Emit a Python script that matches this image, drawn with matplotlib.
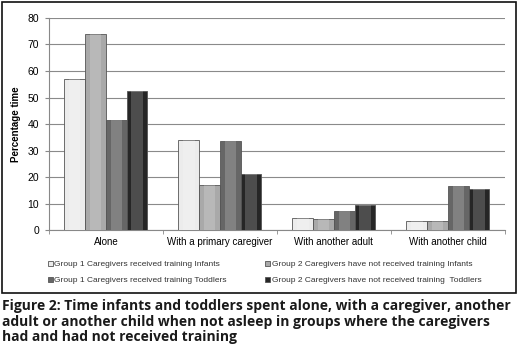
import numpy as np
import matplotlib
matplotlib.use("Agg")
import matplotlib.pyplot as plt
from matplotlib.patches import Rectangle

# data
categories = ["Alone", "With a primary caregiver", "With another adult", "With another child"]
series_names = ["Group 1 Caregivers received training Infants",
                "Group 2 Caregivers have not received training Infants",
                "Group 1 Caregivers received training Toddlers",
                "Group 2 Caregivers have not received training  Toddlers"]
g1_infants = [57, 34, 4.5, 3.5]
g2_infants = [74, 17, 4.3, 3.5]
g1_toddlers = [41.5, 33.7, 7.3, 16.8]
g2_toddlers = [52.3, 21, 9.3, 15.5]
yticks = [0, 10, 20, 30, 40, 50, 60, 70, 80]

caption = ("Figure 2: Time infants and toddlers spent alone, with a caregiver, another\n"
           "adult or another child when not asleep in groups where the caregivers\n"
           "had and had not received training")

colors = ["#ececec", "#a9a9a9", "#666666", "#262626"]
plt.rcParams['font.family'] = ['Liberation Sans', 'DejaVu Sans']

fig = plt.figure(figsize=(5.2, 3.45), dpi=100)
ax = fig.add_axes([0.094, 0.333, 0.877, 0.615])

# frame around the chart area
fig.patches.append(Rectangle((0.004, 0.151), 0.988, 0.843, transform=fig.transFigure,
                             fill=False, edgecolor="#111111", linewidth=1.2))

x = np.arange(len(categories))
bw = 1 / 5.5
all_series = [g1_infants, g2_infants, g1_toddlers, g2_toddlers]
bars = []
for i, vals in enumerate(all_series):
    b = ax.bar(x + (i - 1.5) * bw, vals, bw, color=colors[i], edgecolor="#555555",
               linewidth=0.6, zorder=3, label=series_names[i])
    # lighter inner strip to hint at the bevelled look
    ax.bar(x + (i - 1.5) * bw, vals, bw * 0.55, color="white", alpha=0.18,
           linewidth=0, zorder=4)
    bars.append(b)

ax.set_xlim(-0.5, len(categories) - 0.5)
ax.set_ylim(0, 80)
ax.set_yticks(yticks)
ax.set_xticks(x)
ax.set_xticklabels(categories, fontsize=7)
ax.set_xticks(np.arange(len(categories) + 1) - 0.5, minor=True)
ax.tick_params(axis="x", which="major", length=0, pad=5)
ax.tick_params(axis="x", which="minor", length=3, color="#888888")
ax.tick_params(axis="y", labelsize=7.5, length=3, color="#888888", pad=4)
ax.grid(axis="y", color="#8a8a8a", linewidth=0.8, zorder=0)
for s in ["top", "right"]:
    ax.spines[s].set_visible(False)
ax.spines["left"].set_color("#888888")
ax.spines["bottom"].set_color("#888888")
ax.set_ylabel("Percentage time", fontsize=7, fontweight="bold", labelpad=5)

# legend: column-wise fill, so reorder to get rows as in the reference
order = [0, 2, 1, 3]
fig.legend([bars[k] for k in order], [series_names[k] for k in order],
           ncol=2, loc="center left", bbox_to_anchor=(0.077, 0.21), frameon=False,
           fontsize=6.0, handlelength=0.6, handleheight=0.6, handletextpad=0.2,
           columnspacing=4.6, labelspacing=1.0, labelcolor="#333333")

fig.text(0.004, 0.132, caption, fontsize=10, fontweight="bold", family=["Open Sans", "DejaVu Sans"],
         va="top", ha="left", color="#1a1a1a", linespacing=1.12)

fig.savefig("out.png", dpi=100)
